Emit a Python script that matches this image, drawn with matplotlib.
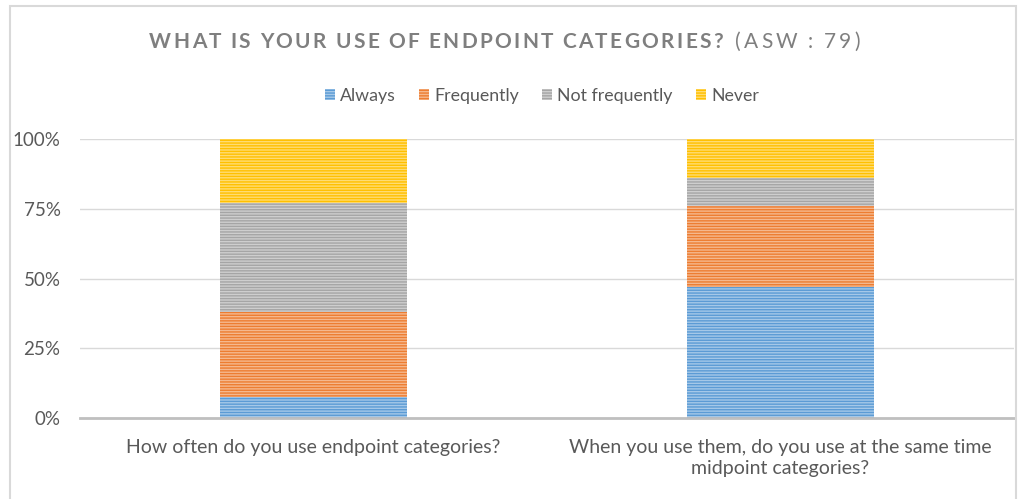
import numpy as np
import matplotlib
matplotlib.use("Agg")
import matplotlib.pyplot as plt
from matplotlib.patches import Rectangle
from matplotlib.colors import to_rgb

# answers (count of respondents, ASW = 79)
questions = ["How often do you use endpoint categories?",
             "When you use them, do you use at the same time\nmidpoint categories?"]
answers = ["Always", "Frequently", "Not frequently", "Never"]
always = [6, 37]
frequently = [24, 23]
not_frequently = [31, 8]
never = [18, 11]
colors = ["#5B9BD5", "#ED7D31", "#A5A5A5", "#FFC000"]

plt.rcParams["font.family"] = ["Lato", "DejaVu Sans"]
plt.rcParams["hatch.linewidth"] = 1.0

W, H = 1022, 499
fig = plt.figure(figsize=(W / 100, H / 100), dpi=100)
ax = fig.add_axes([80 / W, 1 - 418 / H, (1014 - 80) / W, (418 - 139) / H])

series = [always, frequently, not_frequently, never]
totals = np.sum(series, axis=0)
x = np.arange(len(questions))
bottom = np.zeros(len(questions))


def lighten(c, f):
    r = np.array(to_rgb(c))
    return tuple(r + (1 - r) * f)


for name, vals, col in zip(answers, series, colors):
    share = np.array(vals) / totals
    ax.bar(x, share, 0.4, bottom=bottom, label=name,
           facecolor=lighten(col, 0.45), edgecolor=col, linewidth=0,
           hatch="------")
    bottom += share

ax.set_xlim(-0.5, 1.5)
ax.set_ylim(0, 1)
ax.set_yticks([0, 0.25, 0.5, 0.75, 1.0])
ax.set_yticklabels(["0%", "25%", "50%", "75%", "100%"])
ax.set_xticks(x)
ax.set_xticklabels(questions, linespacing=1.3)
ax.tick_params(axis="y", length=0, pad=14, labelsize=13.5, labelcolor="#595959")
ax.tick_params(axis="x", length=0, pad=15, labelsize=14, labelcolor="#595959")
ax.grid(axis="y", color="#D9D9D9", linewidth=1)
ax.set_axisbelow(True)
for s in ["top", "right", "left"]:
    ax.spines[s].set_visible(False)
ax.spines["bottom"].set_color("#BFBFBF")
ax.spines["bottom"].set_linewidth(2)

# legend
fig.legend(loc="center", bbox_to_anchor=(542 / W, 1 - 96 / H), ncol=4,
           frameon=False, fontsize=12.8, handlelength=0.55, handleheight=0.55,
           handletextpad=0.3, columnspacing=1.3, labelcolor="#595959")

# title with letter spacing
renderer = fig.canvas.get_renderer()


def tracked(s, x0, x1, y, **kw):
    texts = []
    widths = []
    for ch in s:
        t = fig.text(0, y, ch if ch != " " else "\u00a0", va="center", **kw)
        w = t.get_window_extent(renderer).width
        if ch == " ":
            w = kw.get("fontsize", 12) * 0.3
        texts.append(t)
        widths.append(w)
    gap = (x1 - x0 - sum(widths)) / (len(s) - 1)
    xp = x0
    for t, w in zip(texts, widths):
        t.set_x(xp / W)
        xp += w + gap


tracked("WHAT IS YOUR USE OF ENDPOINT CATEGORIES?", 149, 723, 1 - 42 / H,
        fontsize=15, fontweight="bold", color="#7F7F7F")
tracked("(ASW : 79)", 735, 860, 1 - 42 / H, fontsize=15, color="#7F7F7F")

# chart border
fig.patches.append(Rectangle((10 / W, -0.05), 1006 / W, 1.05 - 6 / H,
                             transform=fig.transFigure, fill=False,
                             edgecolor="#D9D9D9", linewidth=1.5))

fig.savefig("out.png", dpi=100)
